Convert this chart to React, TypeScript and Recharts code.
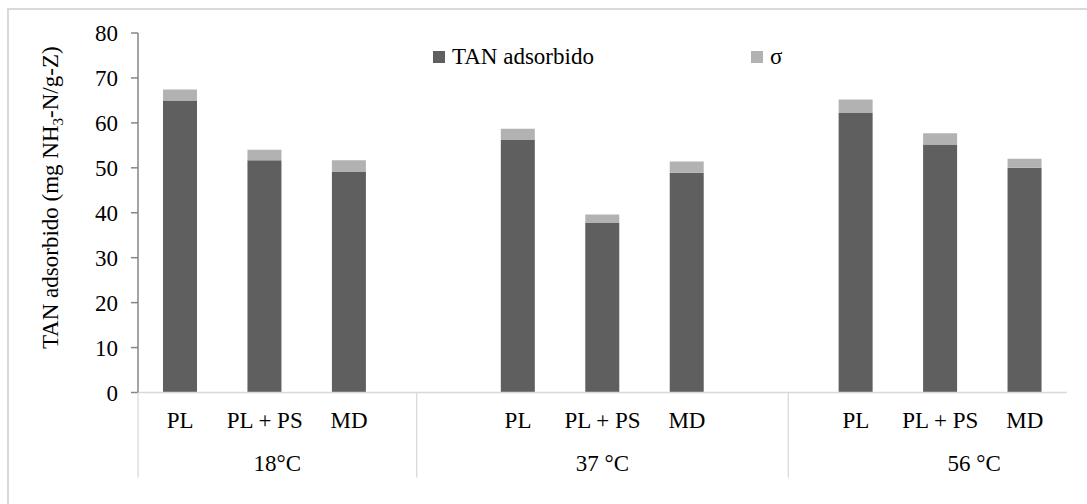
import { Bar, BarChart, Legend, XAxis, YAxis } from "recharts";

const temps = ["18°C", "37 °C", "56 °C"];
const treatments = ["PL", "PL + PS", "MD"];
const tanAdsorbido = [
  [65.0, 51.7, 49.2],
  [56.2, 37.7, 48.9],
  [62.2, 55.2, 50.0],
];
const sigma = [
  [2.4, 2.3, 2.5],
  [2.5, 1.9, 2.5],
  [3.0, 2.5, 2.0],
];
const yTicks = [0, 10, 20, 30, 40, 50, 60, 70, 80];

const DARK = "#5f5f5f";
const LIGHT = "#b2b2b2";
const GRID = "#d9d9d9";
const FONT = "'Liberation Serif', 'Times New Roman', serif";
const FS = 23;
const CAT_H = 40;
const GRP_H = 45;

// one empty slot in front of every group after the first, as in the source sheet
type Row = { name: string; tan: number | null; sigma: number | null };
const data: Row[] = [];
const bounds: number[] = [0];
const centers: Record<string, string> = {};
temps.forEach((t, gi) => {
  const start = data.length;
  if (gi > 0) data.push({ name: "", tan: null, sigma: null });
  treatments.forEach((tr, i) => {
    data.push({ name: tr, tan: tanAdsorbido[gi][i], sigma: sigma[gi][i] });
  });
  bounds.push(data.length);
  centers[String((start + data.length) / 2)] = t;
});
const groupTicks = [...bounds, ...Object.keys(centers).map(Number)].sort((a, b) => a - b);

function GroupTick(props: any) {
  const { x, y, payload } = props;
  const label = centers[String(payload.value)];
  if (label) {
    return (
      <text x={x} y={y + 38.5} textAnchor="middle" fill="#000" fontSize={FS} fontFamily={FONT}>
        {label}
      </text>
    );
  }
  return <line x1={x} x2={x} y1={y - CAT_H} y2={y + GRP_H} stroke={GRID} strokeWidth={1.3} />;
}

function YLabel(props: any) {
  const { viewBox } = props;
  const x = viewBox.x + 20;
  const y = viewBox.y + viewBox.height / 2 - 15;
  return (
    <text
      x={x}
      y={y}
      transform={`rotate(-90, ${x}, ${y})`}
      textAnchor="middle"
      fill="#000"
      fontSize={FS}
      fontFamily={FONT}
    >
      TAN adsorbido (mg NH
      <tspan fontSize={15} dy={5}>3</tspan>
      <tspan dy={-5}>-N/g-Z)</tspan>
    </text>
  );
}

function LegendContent(props: any) {
  const { payload } = props;
  return (
    <div style={{ display: "flex", fontFamily: FONT, fontSize: FS, lineHeight: "24px", color: "#000" }}>
      {payload.map((p: any, i: number) => (
        <div key={i} style={{ display: "flex", alignItems: "center", width: i === 0 ? 318 : "auto" }}>
          <span style={{ width: 12, height: 12, background: p.color, marginRight: 7, display: "inline-block" }} />
          <span>{p.value}</span>
        </div>
      ))}
    </div>
  );
}

export default function App() {
  return (
    <div
      style={{
        position: "fixed",
        left: 0,
        top: 0,
        width: 1087,
        height: 504,
        overflow: "hidden",
        background: "#fff",
      }}
    >
      <div
        style={{
          position: "absolute",
          left: 7,
          top: 8,
          width: 1200,
          height: 700,
          border: `2px solid ${GRID}`,
        }}
      />
      <BarChart
        width={1087}
        height={504}
        data={data}
        margin={{ top: 33, right: 20, left: 38, bottom: 26.5 }}
        barSize={34}
      >
        <XAxis
          dataKey="name"
          interval={0}
          height={CAT_H}
          tickLine={false}
          tickSize={0}
          tickMargin={19}
          axisLine={{ stroke: GRID, strokeWidth: 1.3 }}
          tick={{ fill: "#000", fontSize: FS, fontFamily: FONT }}
        />
        <XAxis
          xAxisId="grp"
          type="number"
          domain={[0, data.length]}
          ticks={groupTicks}
          interval={0}
          height={GRP_H}
          axisLine={false}
          tickLine={false}
          tickSize={0}
          tickMargin={0}
          tick={<GroupTick />}
        />
        <YAxis
          width={100}
          domain={[0, 80]}
          ticks={yTicks}
          interval={0}
          tickSize={7}
          tickMargin={13}
          axisLine={{ stroke: "#868686", strokeWidth: 1.5 }}
          tickLine={{ stroke: "#868686", strokeWidth: 1.5 }}
          tick={{ fill: "#000", fontSize: FS, fontFamily: FONT }}
          label={<YLabel />}
        />
        <Legend
          layout="horizontal"
          verticalAlign="middle"
          align="center"
          content={<LegendContent />}
          wrapperStyle={{ top: 45, left: 433, width: 400 }}
        />
        <Bar dataKey="tan" name="TAN adsorbido" stackId="a" fill={DARK} isAnimationActive={false} />
        <Bar dataKey="sigma" name="σ" stackId="a" fill={LIGHT} isAnimationActive={false} />
      </BarChart>
    </div>
  );
}
